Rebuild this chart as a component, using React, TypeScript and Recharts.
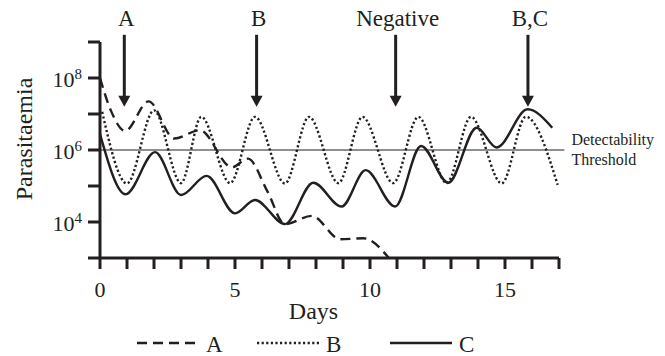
import { LineChart, Line, XAxis, YAxis, ReferenceLine } from "recharts";

const FONT = "'Liberation Serif', 'Times New Roman', serif";
const INK = "#231f20";

// days and log10(parasitaemia)
const aDays = [0, 0.4, 0.93, 1.8, 2.75, 3.7, 4.88, 5.48, 6.2, 6.85, 7.84, 8.9, 9.75, 10.7];
const aLog = [8.0, 7.1, 6.53, 7.35, 6.32, 6.55, 5.52, 5.76, 4.85, 3.94, 4.17, 3.52, 3.55, 3.0];

const bDays = [0.08, 1.0, 2.0, 3.0, 3.75, 4.82, 5.74, 6.85, 7.74, 8.83, 9.72, 10.86, 11.79, 12.84, 13.74, 14.88, 15.77, 16.95];
const bLog = [7.06, 5.07, 7.1, 5.08, 6.92, 5.08, 6.92, 5.07, 6.92, 5.08, 6.92, 5.08, 6.92, 5.08, 6.92, 5.07, 6.92, 5.03];

const cDays = [0, 0.95, 2.04, 3.0, 3.95, 5.0, 5.74, 6.85, 7.9, 8.95, 9.84, 10.93, 11.89, 12.9, 13.95, 14.69, 15.84, 16.75];
const cLog = [6.44, 4.77, 5.94, 4.75, 5.28, 4.24, 4.61, 3.94, 5.09, 4.43, 5.44, 4.43, 6.11, 5.09, 6.62, 6.07, 7.13, 6.62];

const xTicks = [0, 1, 2, 3, 4, 5, 6, 7, 8, 9, 10, 11, 12, 13, 14, 15, 16, 17];
const xLabelled = [0, 5, 10, 15];
const yTicks = [3, 4, 5, 6, 7, 8, 9];
const yLabelled = [4, 6, 8];

const thresholdLog = 6;
const arrowDays = [0.9, 5.8, 10.95, 15.85];
const arrowLabels = ["A", "B", "Negative", "B,C"];

const toRows = (days: number[], vals: number[]) => days.map((day, i) => ({ day, log: vals[i] }));

const seriesA = toRows(aDays, aLog);
const seriesB = toRows(bDays, bLog);
const seriesC = toRows(cDays, cLog);

const DASH_A = "10 6";
const DOT_B = "2.2 2.4";

const YTick = ({ x, y, payload }: any) => {
  if (!yLabelled.includes(payload.value)) return null;
  return (
    <text x={x} y={y + 9} textAnchor="end" fontFamily={FONT} fontSize={22} fill={INK}>
      10
      <tspan dy={-8} fontSize={15}>
        {payload.value}
      </tspan>
    </text>
  );
};

const XTick = ({ x, y, payload }: any) => {
  if (!xLabelled.includes(payload.value)) return null;
  return (
    <text x={x} y={y + 26} textAnchor="middle" fontFamily={FONT} fontSize={22} fill={INK}>
      {payload.value}
    </text>
  );
};

const arrowShape = (label: string) => (props: any) => {
  const { x1, y1, y2 } = props;
  const top = Math.min(y1, y2);
  const tip = Math.max(y1, y2);
  return (
    <g>
      <text x={x1 + 2} y={top - 9} textAnchor="middle" fontFamily={FONT} fontSize={23} fill={INK}>
        {label}
      </text>
      <line x1={x1} y1={top} x2={x1} y2={tip - 9} stroke={INK} strokeWidth={3} />
      <polygon points={`${x1 - 6},${tip - 11} ${x1 + 6},${tip - 11} ${x1},${tip}`} fill={INK} />
    </g>
  );
};

const thresholdShape = (props: any) => {
  const { x1, x2, y1 } = props;
  const right = Math.max(x1, x2);
  return (
    <g>
      <line x1={Math.min(x1, x2)} y1={y1} x2={right} y2={y1} stroke={INK} strokeWidth={1.2} />
      <text x={right + 7} y={y1 - 5} fontFamily={FONT} fontSize={16} fill={INK}>
        Detectability
      </text>
      <text x={right + 7} y={y1 + 15} fontFamily={FONT} fontSize={16} fill={INK}>
        Threshold
      </text>
    </g>
  );
};

const legendItems = [
  { name: "A", dash: DASH_A, x: 137 },
  { name: "B", dash: DOT_B, x: 257 },
  { name: "C", dash: undefined, x: 390 },
];

export default function App() {
  return (
    <div style={{ position: "absolute", left: 0, top: 0, width: 665, height: 356, background: "#fff" }}>
      <LineChart width={665} height={356} data={seriesC} margin={{ top: 42, right: 106, left: 40, bottom: 68 }}>
        <XAxis
          dataKey="day"
          type="number"
          domain={[0, 17]}
          ticks={xTicks}
          interval={0}
          tick={<XTick />}
          tickSize={11}
          height={30}
          axisLine={{ stroke: INK, strokeWidth: 3 }}
          tickLine={{ stroke: INK, strokeWidth: 3 }}
          label={{
            content: ({ viewBox }: any) => (
              <text
                x={viewBox.x + viewBox.width / 2 - 16}
                y={319}
                textAnchor="middle"
                fontFamily={FONT}
                fontSize={24}
                fill={INK}
              >
                Days
              </text>
            ),
          }}
        />
        <YAxis
          type="number"
          domain={[3, 9]}
          ticks={yTicks}
          interval={0}
          tick={<YTick />}
          tickSize={12}
          tickMargin={6}
          width={60}
          axisLine={{ stroke: INK, strokeWidth: 3 }}
          tickLine={{ stroke: INK, strokeWidth: 3 }}
          label={{
            content: () => (
              <text
                x={32}
                y={139}
                transform="rotate(-90 32 139)"
                textAnchor="middle"
                fontFamily={FONT}
                fontSize={24}
                fill={INK}
              >
                Parasitaemia
              </text>
            ),
          }}
        />
        <ReferenceLine
          segment={[
            { x: 0, y: thresholdLog },
            { x: 17.2, y: thresholdLog },
          ]}
          ifOverflow="visible"
          shape={thresholdShape}
        />
        {arrowDays.map((d, i) => (
          <ReferenceLine
            key={arrowLabels[i]}
            segment={[
              { x: d, y: 9.2 },
              { x: d, y: 7.2 },
            ]}
            ifOverflow="visible"
            shape={arrowShape(arrowLabels[i])}
          />
        ))}
        <Line
          data={seriesA}
          dataKey="log"
          type="monotone"
          stroke={INK}
          strokeWidth={2.4}
          strokeDasharray={DASH_A}
          dot={false}
          isAnimationActive={false}
        />
        <Line
          data={seriesB}
          dataKey="log"
          type="monotone"
          stroke={INK}
          strokeWidth={2.4}
          strokeDasharray={DOT_B}
          dot={false}
          isAnimationActive={false}
        />
        <Line
          data={seriesC}
          dataKey="log"
          type="monotone"
          stroke={INK}
          strokeWidth={2.4}
          dot={false}
          isAnimationActive={false}
        />
      </LineChart>
      <svg width={665} height={30} style={{ position: "absolute", left: 0, top: 328 }}>
        {legendItems.map((it) => (
          <g key={it.name}>
            <line x1={it.x} y1={15} x2={it.x + 62} y2={15} stroke={INK} strokeWidth={2.4} strokeDasharray={it.dash} />
            <text x={it.x + 69} y={24} fontFamily={FONT} fontSize={23} fill={INK}>
              {it.name}
            </text>
          </g>
        ))}
      </svg>
    </div>
  );
}
